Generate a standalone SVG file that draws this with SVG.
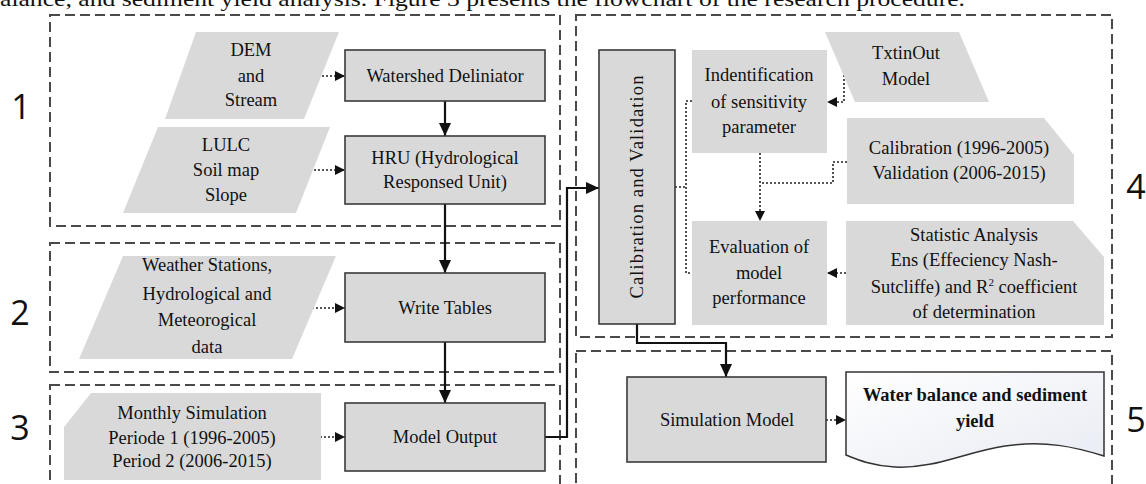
<svg xmlns="http://www.w3.org/2000/svg" width="1146" height="484" viewBox="0 0 1146 484">
<style>
.frame{fill:none;stroke:#4a4a4a;stroke-width:2;stroke-dasharray:10 5}
.box{fill:#d9d9d9;stroke:#3a3a3a;stroke-width:1.6}
.data{fill:#d9d9d9;stroke:none}
.t{font-family:"Liberation Serif","Times New Roman",serif;font-size:18.5px;fill:#111;text-anchor:middle}
.tb{font-family:"Liberation Serif","Times New Roman",serif;font-size:18.5px;font-weight:bold;fill:#111;text-anchor:middle}
.num{font-family:"Open Sans","Noto Sans",sans-serif;font-size:34px;fill:#111;text-anchor:middle}
.solid{fill:none;stroke:#111;stroke-width:2.2}
.dot{fill:none;stroke:#222;stroke-width:1.6;stroke-dasharray:2 2}
.head{fill:#111}
</style>
<defs>
<marker id="arr" markerUnits="userSpaceOnUse" markerWidth="14" markerHeight="14" refX="13" refY="6" orient="auto">
<path class="head" d="M0,0 L13,6 L0,12 Z"/>
</marker>
<marker id="darr" markerUnits="userSpaceOnUse" markerWidth="12" markerHeight="12" refX="10" refY="5" orient="auto">
<path class="head" d="M0,0 L10,5 L0,10 Z"/>
</marker>
<linearGradient id="docg" x1="0" y1="0" x2="1" y2="1">
<stop offset="0" stop-color="#ffffff"/>
<stop offset="1" stop-color="#e8ebf3"/>
</linearGradient>
</defs>

<text x="0" y="6" font-family="Liberation Serif, serif" font-size="22" fill="#111" textLength="965" lengthAdjust="spacingAndGlyphs">alance, and sediment yield analysis. Figure 3 presents the flowchart of the research procedure.</text>

<g id="frames">
<rect class="frame" x="50" y="15" width="510" height="211"/>
<rect class="frame" x="50" y="243" width="510" height="129"/>
<rect class="frame" x="50" y="385" width="510" height="115"/>
<rect class="frame" x="576" y="15" width="536" height="322"/>
<rect class="frame" x="576" y="351" width="536" height="145"/>
</g>

<g id="labels">
<text class="num" x="21" y="119">1</text>
<text class="num" x="20" y="325">2</text>
<text class="num" x="20" y="440">3</text>
<text class="num" x="1136" y="199">4</text>
<text class="num" x="1136" y="432">5</text>
</g>

<g id="connectors">
<line class="solid" x1="445" y1="101" x2="445" y2="136" marker-end="url(#arr)"/>
<line class="solid" x1="445" y1="204" x2="445" y2="273" marker-end="url(#arr)"/>
<line class="solid" x1="445" y1="342" x2="445" y2="403" marker-end="url(#arr)"/>
<polyline class="solid" points="545,437 567,437 567,188 599,188" marker-end="url(#arr)"/>
<polyline class="solid" points="637,324 637,343 726,343 726,377" marker-end="url(#arr)"/>
<line class="dot" x1="318" y1="76" x2="345" y2="76" marker-end="url(#darr)"/>
<line class="dot" x1="310" y1="170" x2="345" y2="170" marker-end="url(#darr)"/>
<line class="dot" x1="312" y1="308" x2="345" y2="308" marker-end="url(#darr)"/>
<line class="dot" x1="320" y1="437" x2="345" y2="437" marker-end="url(#darr)"/>
<line class="dot" x1="826" y1="420" x2="846" y2="420" marker-end="url(#darr)"/>
<polyline class="dot" points="856,67 844,67 844,102 827,102" marker-end="url(#darr)"/>
<polyline class="dot" points="847,162 833,162 833,183 760,183"/>
<line class="dot" x1="760" y1="153" x2="760" y2="221" marker-end="url(#darr)"/>
<line class="dot" x1="846" y1="273" x2="827" y2="273" marker-end="url(#darr)"/>
<line class="dot" x1="675" y1="187" x2="686" y2="187"/>
<polyline class="dot" points="692,101 686,101 686,273 692,273"/>
</g>

<g id="dem">
<path class="data" d="M196,32 L339,32 L304,119 L165,119 Z"/>
<text class="t" x="251" y="56">DEM</text>
<text class="t" x="251" y="82">and</text>
<text class="t" x="251" y="106">Stream</text>
</g>
<g id="watershed">
<rect class="box" x="345" y="50" width="200" height="51"/>
<text class="t" x="445" y="82">Watershed Deliniator</text>
</g>
<g id="lulc">
<path class="data" d="M158,127 L330,127 L296,213 L123,213 Z"/>
<text class="t" x="226" y="151">LULC</text>
<text class="t" x="226" y="176">Soil map</text>
<text class="t" x="226" y="201">Slope</text>
</g>
<g id="hru">
<rect class="box" x="345" y="136" width="200" height="68"/>
<text class="t" x="445" y="164">HRU (Hydrological</text>
<text class="t" x="445" y="188">Responsed Unit)</text>
</g>
<g id="weather">
<path class="data" d="M123,256 L336,256 L292,359 L79,359 Z"/>
<text class="t" x="207" y="271">Weather Stations,</text>
<text class="t" x="207" y="300">Hydrological and</text>
<text class="t" x="207" y="326">Meteorogical</text>
<text class="t" x="207" y="353">data</text>
</g>
<g id="writetables">
<rect class="box" x="345" y="273" width="200" height="69"/>
<text class="t" x="445" y="314">Write Tables</text>
</g>
<g id="monthly">
<path class="data" d="M91,393 L321,393 L321,480 L64,480 L64,427 Z"/>
<text class="t" x="192" y="419">Monthly Simulation</text>
<text class="t" x="192" y="444">Periode 1 (1996-2005)</text>
<text class="t" x="192" y="467">Period 2 (2006-2015)</text>
</g>
<g id="modeloutput">
<rect class="box" x="345" y="403" width="200" height="68"/>
<text class="t" x="445" y="443">Model Output</text>
</g>
<g id="calval">
<rect class="box" x="599" y="50" width="76" height="274"/>
<text class="t" transform="translate(643,187) rotate(-90)" x="0" y="0" textLength="223" lengthAdjust="spacing">Calibration and Validation</text>
</g>
<g id="ident">
<rect class="data" x="692" y="50" width="135" height="103"/>
<text class="t" x="759" y="81">Indentification</text>
<text class="t" x="759" y="108">of sensitivity</text>
<text class="t" x="759" y="133">parameter</text>
</g>
<g id="txtinout">
<path class="data" d="M825,32 L959,32 L989,102 L855,102 Z"/>
<text class="t" x="906" y="59">TxtinOut</text>
<text class="t" x="906" y="85">Model</text>
</g>
<g id="calperiod">
<path class="data" d="M847,118 L1044,118 L1074,155 L1074,204 L847,204 Z"/>
<text class="t" x="959" y="154">Calibration (1996-2005)</text>
<text class="t" x="959" y="179">Validation (2006-2015)</text>
</g>
<g id="eval">
<rect class="data" x="692" y="221" width="135" height="104"/>
<text class="t" x="759" y="253">Evaluation of</text>
<text class="t" x="759" y="279">model</text>
<text class="t" x="759" y="304">performance</text>
</g>
<g id="stat">
<path class="data" d="M846,221 L1073,221 L1104,257 L1104,325 L846,325 Z"/>
<text class="t" x="974" y="241">Statistic Analysis</text>
<text class="t" x="974" y="266">Ens (Effeciency Nash-</text>
<text class="t" x="974" y="293">Sutcliffe) and R<tspan font-size="11" dy="-7">2</tspan><tspan dy="7"> coefficient</tspan></text>
<text class="t" x="974" y="318">of determination</text>
</g>
<g id="simmodel">
<rect class="box" x="627" y="377" width="199" height="85"/>
<text class="t" x="727" y="426">Simulation Model</text>
</g>
<g id="result">
<path d="M846,372 L1104,372 L1104,456 C1075,447 1045,440 1005,446 C965,452 935,469 895,467 C873,466 858,460 846,455 Z" fill="url(#docg)" stroke="#333" stroke-width="1.5"/>
<text class="tb" x="975" y="401">Water balance and sediment</text>
<text class="tb" x="975" y="427">yield</text>
</g>
</svg>
